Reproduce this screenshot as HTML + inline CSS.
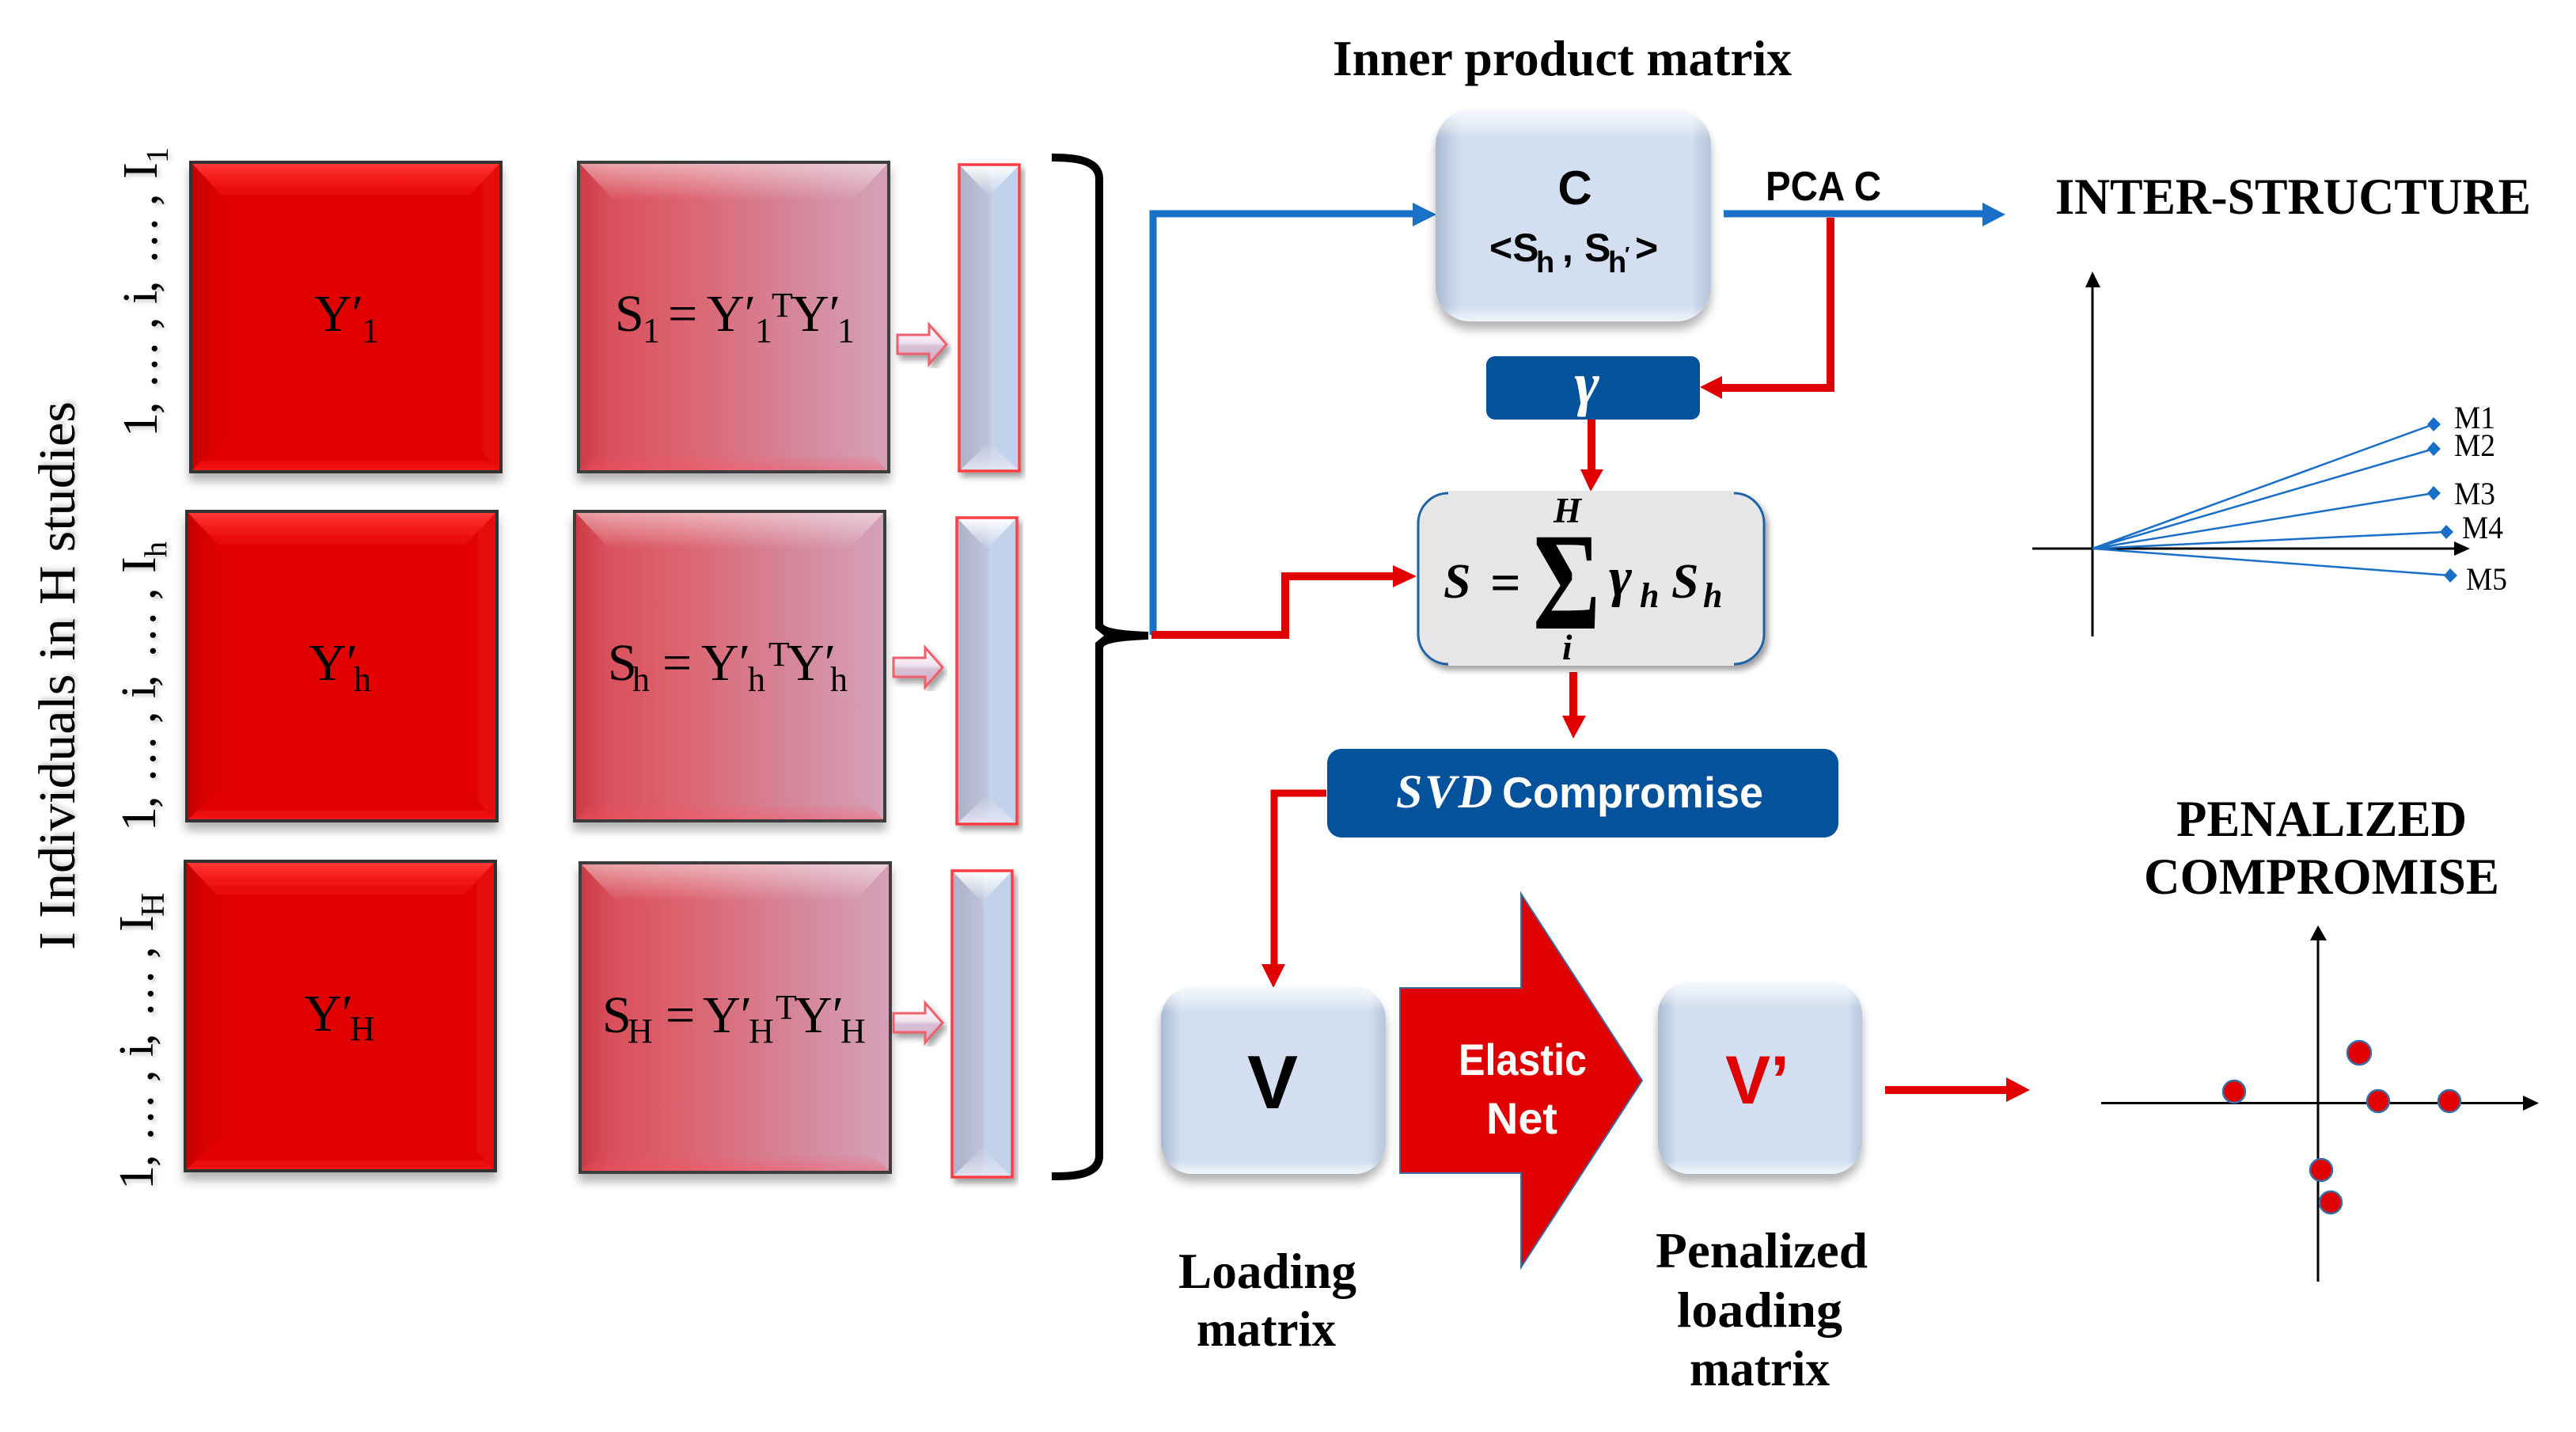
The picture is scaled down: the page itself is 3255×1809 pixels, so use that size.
<!DOCTYPE html>
<html>
<head>
<meta charset="utf-8">
<style>
html,body{margin:0;padding:0;background:#fff;}
svg{display:block;}
text{font-family:"Liberation Serif",serif;fill:#000;}
.s{font-family:"Liberation Sans",sans-serif;font-weight:bold;}
.b{font-weight:bold;}
.m{font-size:66px;}
.u{font-size:44px;}
.bi{font-weight:bold;font-style:italic;}
</style>
</head>
<body>
<svg width="3255" height="1809" viewBox="0 0 3255 1809" xmlns="http://www.w3.org/2000/svg">
<defs>
<filter id="sh" x="-10%" y="-10%" width="120%" height="120%"><feDropShadow dx="0" dy="10" stdDeviation="6" flood-color="#000" flood-opacity=".3"/></filter>
<filter id="sh2" x="-10%" y="-10%" width="120%" height="120%"><feDropShadow dx="4" dy="6" stdDeviation="4" flood-color="#000" flood-opacity=".38"/></filter>
<filter id="ts" x="-10%" y="-10%" width="120%" height="120%"><feDropShadow dx="3" dy="3" stdDeviation="3" flood-color="#000" flood-opacity=".2"/></filter>
<linearGradient id="rt" x1="0" y1="0" x2="0" y2="1"><stop offset="0" stop-color="#ff3a3a"/><stop offset=".45" stop-color="#f41a1a"/><stop offset="1" stop-color="#e00000"/></linearGradient>
<linearGradient id="rb" x1="0" y1="0" x2="0" y2="1"><stop offset="0" stop-color="#e00000"/><stop offset=".6" stop-color="#e00000"/><stop offset="1" stop-color="#f81818"/></linearGradient>
<linearGradient id="rl" x1="0" y1="0" x2="1" y2="0"><stop offset="0" stop-color="#c40000"/><stop offset=".6" stop-color="#d80000"/><stop offset="1" stop-color="#e00000"/></linearGradient>
<linearGradient id="rr" x1="0" y1="0" x2="1" y2="0"><stop offset="0" stop-color="#e00000"/><stop offset="1" stop-color="#e80e0e"/></linearGradient>
<linearGradient id="p" x1="0" y1="0" x2="1" y2="0"><stop offset="0" stop-color="#cc3a44"/><stop offset=".1" stop-color="#d9505c"/><stop offset=".35" stop-color="#dc6470"/><stop offset=".7" stop-color="#d5869a"/><stop offset="1" stop-color="#d5a2b8"/></linearGradient>
<linearGradient id="wt" x1="0" y1="0" x2="0" y2="1"><stop offset="0" stop-color="#fff" stop-opacity=".5"/><stop offset="1" stop-color="#fff" stop-opacity="0"/></linearGradient>
<linearGradient id="wb" x1="0" y1="0" x2="0" y2="1"><stop offset="0" stop-color="#fff" stop-opacity="0"/><stop offset=".5" stop-color="#ff5060" stop-opacity="0"/><stop offset="1" stop-color="#ff5060" stop-opacity=".4"/></linearGradient>
<linearGradient id="bar" x1="0" y1="0" x2="1" y2="0"><stop offset="0" stop-color="#aeb0c6"/><stop offset=".5" stop-color="#bcc4da"/><stop offset=".55" stop-color="#c2d2ea"/><stop offset="1" stop-color="#c2d2ea"/></linearGradient>
<linearGradient id="bt" x1="0" y1="0" x2="0" y2="1"><stop offset="0" stop-color="#fff"/><stop offset="1" stop-color="#fff" stop-opacity="0"/></linearGradient>
<linearGradient id="bb" x1="0" y1="1" x2="0" y2="0"><stop offset="0" stop-color="#e4e4f2"/><stop offset="1" stop-color="#e4e4f2" stop-opacity="0"/></linearGradient>
<linearGradient id="sa" x1="0" y1="0" x2="0" y2="1"><stop offset="0" stop-color="#fff"/><stop offset=".45" stop-color="#f2e4ee"/><stop offset=".55" stop-color="#d5c0d8"/><stop offset="1" stop-color="#d4a8c0"/></linearGradient>
<linearGradient id="ct" x1="0" y1="0" x2="0" y2="1"><stop offset="0" stop-color="#f4f8fc"/><stop offset=".13" stop-color="#fff" stop-opacity="0"/><stop offset=".93" stop-color="#fff" stop-opacity="0"/><stop offset="1" stop-color="#fff" stop-opacity=".7"/></linearGradient>
<linearGradient id="cs" x1="0" y1="0" x2="1" y2="0"><stop offset="0" stop-color="#a8bad2"/><stop offset=".09" stop-color="#a8bad2" stop-opacity="0"/><stop offset=".93" stop-color="#a8bad2" stop-opacity="0"/><stop offset="1" stop-color="#b8c8dc"/></linearGradient>

<g id="red">
<rect width="392" height="391" fill="#e00000"/>
<polygon points="0,0 392,0 347,48 45,48" fill="url(#rt)"/>
<polygon points="0,391 392,391 347,345 45,345" fill="url(#rb)"/>
<polygon points="0,0 45,48 45,345 0,391" fill="url(#rl)"/>
<polygon points="392,0 347,48 347,345 392,391" fill="url(#rr)"/>
<rect width="392" height="391" fill="none" stroke="#333" stroke-width="4"/>
</g>
<g id="pink">
<rect width="392" height="391" fill="url(#p)"/>
<polygon points="0,0 392,0 347,48 45,48" fill="url(#wt)"/>
<polygon points="0,391 392,391 347,345 45,345" fill="url(#wb)"/>
<rect width="392" height="391" fill="none" stroke="#3c3c3c" stroke-width="4"/>
</g>
<g id="bar1">
<rect width="76" height="387" fill="url(#bar)"/>
<polygon points="0,0 76,0 38,40" fill="url(#bt)"/>
<polygon points="0,387 76,387 38,350" fill="url(#bb)"/>
<rect width="76" height="387" fill="none" stroke="#ff3c44" stroke-width="3.5"/>
</g>
<g id="arr">
<polygon points="0,13 40,13 40,0 62,25 40,50 40,37 0,37" fill="url(#sa)" stroke="#f0606c" stroke-width="3"/>
</g>
</defs>

<rect width="3255" height="1809" fill="#fff"/>

<!-- left column blocks -->
<use href="#red" x="241" y="205" filter="url(#sh)"/>
<use href="#red" x="236" y="646" filter="url(#sh)"/>
<use href="#red" x="234" y="1088" filter="url(#sh)"/>
<use href="#pink" x="731" y="205" filter="url(#sh)"/>
<use href="#pink" x="726" y="646" filter="url(#sh)"/>
<use href="#pink" x="733" y="1090" filter="url(#sh)"/>
<use href="#bar1" x="1212" y="208" filter="url(#sh2)"/>
<use href="#bar1" x="1209" y="654" filter="url(#sh2)"/>
<use href="#bar1" x="1203" y="1100" filter="url(#sh2)"/>
<use href="#arr" x="1134" y="410" filter="url(#sh2)"/>
<use href="#arr" x="1129" y="818" filter="url(#sh2)"/>
<use href="#arr" x="1129" y="1267" filter="url(#sh2)"/>

<!-- block labels -->
<text class="m" x="397" y="418">Y′</text><text class="u" x="457" y="432">1</text>
<text class="m" x="390" y="859">Y′</text><text class="u" x="447" y="873">h</text>
<text class="m" x="384" y="1302">Y′</text><text class="u" x="442" y="1314">H</text>

<text class="m" x="777" y="418">S</text><text class="u" x="812" y="432">1</text><text class="m" x="844" y="418">=</text><text class="m" x="893" y="418">Y′</text><text class="u" x="954" y="432">1</text><text class="u" x="975" y="400">T</text><text class="m" x="1000" y="418">Y′</text><text class="u" x="1058" y="432">1</text>

<text class="m" x="768" y="859">S</text><text class="u" x="799" y="873">h</text><text class="m" x="837" y="859">=</text><text class="m" x="886" y="859">Y′</text><text class="u" x="945" y="873">h</text><text class="u" x="971" y="841">T</text><text class="m" x="994" y="859">Y′</text><text class="u" x="1049" y="873">h</text>

<text class="m" x="761" y="1304">S</text><text class="u" x="793" y="1317">H</text><text class="m" x="841" y="1304">=</text><text class="m" x="888" y="1304">Y′</text><text class="u" x="946" y="1317">H</text><text class="u" x="980" y="1287">T</text><text class="m" x="1004" y="1304">Y′</text><text class="u" x="1062" y="1317">H</text>

<!-- rotated labels -->
<text transform="translate(94,1200) rotate(-90)" font-size="66" textLength="693" lengthAdjust="spacingAndGlyphs" filter="url(#ts)">I Individuals  in H studies</text>

<g filter="url(#ts)">
<text transform="translate(198,549) rotate(-90)" font-size="62" x="-3 26 60 81 101 133 165 179 217 237 258 289 323">1,...,i,...,I</text>
<text transform="translate(212,206) rotate(-90)" font-size="40">1</text>
<text transform="translate(196,1047) rotate(-90)" font-size="62" x="-3 26 60 81 101 133 165 179 217 237 258 289 323">1,...,i,...,I</text>
<text transform="translate(210,704) rotate(-90)" font-size="40">h</text>
<text transform="translate(193,1500) rotate(-90)" font-size="62" x="-3 26 60 81 101 133 165 179 217 237 258 289 323">1,...,i,...,I</text>
<text transform="translate(207,1158) rotate(-90)" font-size="42">H</text>
</g>

<!-- brace -->
<path d="M1329,199 C1352,199 1389,200 1389,226 L1389,790 M1389,816 L1389,1460 C1389,1486 1352,1486 1329,1486" fill="none" stroke="#000" stroke-width="10"/>
<path d="M1384,788 L1394,788 C1396,794 1420,797 1451,798 L1451,808 C1420,809 1396,812 1394,818 L1384,818 L1384,812 L1395,803 L1384,794 Z" fill="#000"/>

<!-- connectors blue -->
<path d="M1457,802 L1457,270 L1790,270" fill="none" stroke="#1a72c8" stroke-width="9"/>
<polygon points="1785,256 1815,271 1785,286" fill="#1a72c8"/>
<path d="M2178,270 L2510,270" fill="none" stroke="#1a6fc6" stroke-width="9"/>
<polygon points="2505,256 2534,271 2505,286" fill="#1a6fc6"/>

<!-- connectors red -->
<path d="M2313,275 L2313,490 L2170,490" fill="none" stroke="#e00000" stroke-width="10"/>
<polygon points="2176,475 2148,489 2176,504" fill="#e00000"/>
<path d="M2011,530 L2011,600" fill="none" stroke="#e00000" stroke-width="10"/>
<polygon points="1997,593 2026,593 2010,621" fill="#e00000"/>
<path d="M1455,802 L1624,802 L1624,728 L1765,728" fill="none" stroke="#e00000" stroke-width="10"/>
<polygon points="1760,714 1790,728 1760,742" fill="#e00000"/>
<path d="M1988,849 L1988,910" fill="none" stroke="#e00000" stroke-width="10"/>
<polygon points="1974,904 2004,904 1988,933" fill="#e00000"/>
<path d="M1676,1002 L1610,1002 L1610,1225" fill="none" stroke="#e00000" stroke-width="9"/>
<polygon points="1594,1218 1624,1218 1609,1248" fill="#e00000"/>
<path d="M2382,1377 L2540,1377" fill="none" stroke="#e00000" stroke-width="10"/>
<polygon points="2535,1361 2565,1377 2535,1392" fill="#e00000"/>

<!-- C box -->
<g filter="url(#sh)">
<rect x="1814" y="139" width="348" height="267" rx="44" fill="#d3dff0"/>
<rect x="1814" y="139" width="348" height="267" rx="44" fill="url(#cs)"/>
<rect x="1814" y="139" width="348" height="267" rx="44" fill="url(#ct)"/>
</g>
<text class="s" x="1990" y="258" font-size="60" text-anchor="middle">C</text>
<text class="s" x="1882" y="330" font-size="50">&lt;S</text>
<text class="s" x="1941" y="344" font-size="38">h</text>
<text class="s" x="1974" y="330" font-size="50">,</text>
<text class="s" x="2002" y="330" font-size="50">S</text>
<text class="s" x="2032" y="344" font-size="38">h</text>
<text class="s" x="2053" y="330" font-size="26">′</text>
<text class="s" x="2066" y="330" font-size="50">&gt;</text>

<text class="s" x="2231" y="253" font-size="52" textLength="146" lengthAdjust="spacingAndGlyphs">PCA C</text>

<!-- gamma box -->
<rect x="1878" y="450" width="270" height="80" rx="11" fill="#04519c"/>
<text class="bi" x="2005" y="510" font-size="76" text-anchor="middle" style="fill:#fff">γ</text>

<!-- S box -->
<rect x="1792" y="623" width="437" height="216" rx="38" fill="#e6e6e6" stroke="#1f62a8" stroke-width="3" filter="url(#sh2)"/>
<rect x="1830" y="620" width="361" height="6" fill="#e6e6e6"/>
<rect x="1830" y="836" width="361" height="5" fill="#e6e6e6"/>
<text class="bi" x="1824" y="755" font-size="62">S</text>
<text class="b" x="1883" y="759" font-size="68">=</text>
<text class="b" transform="translate(1937,794) scale(.74,1)" font-size="176">Σ</text>
<text class="bi" x="1963" y="660" font-size="45">H</text>
<text class="bi" x="1974" y="833" font-size="45">i</text>
<text class="bi" x="2033" y="752" font-size="70">γ</text>
<text class="bi" x="2072" y="767" font-size="44">h</text>
<text class="bi" x="2112" y="755" font-size="62">S</text>
<text class="bi" x="2152" y="767" font-size="44">h</text>

<!-- SVD box -->
<rect x="1677" y="946" width="646" height="112" rx="18" fill="#04519c"/>
<text class="bi" x="1764" y="1020" font-size="60" style="fill:#fff" textLength="122" lengthAdjust="spacing">SVD</text>
<text class="s" x="1898" y="1020" font-size="55" style="fill:#fff" textLength="330" lengthAdjust="spacingAndGlyphs">Compromise</text>

<!-- V box -->
<g filter="url(#sh)">
<rect x="1467" y="1247" width="284" height="236" rx="40" fill="#d3dff0"/>
<rect x="1467" y="1247" width="284" height="236" rx="40" fill="url(#cs)"/>
<rect x="1467" y="1247" width="284" height="236" rx="40" fill="url(#ct)"/>
</g>
<text class="s" x="1608" y="1400" font-size="96" text-anchor="middle">V</text>

<!-- Elastic arrow -->
<polygon points="1769,1248 1922,1248 1922,1129 2075,1365 1922,1601 1922,1482 1769,1482" fill="#e00000" stroke="#3a6ea5" stroke-width="2"/>
<text class="s" x="1843" y="1358" font-size="56" style="fill:#fff" textLength="162" lengthAdjust="spacingAndGlyphs">Elastic</text>
<text class="s" x="1878" y="1432" font-size="56" style="fill:#fff" textLength="90" lengthAdjust="spacingAndGlyphs">Net</text>

<!-- V' box -->
<g filter="url(#sh)">
<rect x="2095" y="1241" width="258" height="242" rx="40" fill="#d3dff0"/>
<rect x="2095" y="1241" width="258" height="242" rx="40" fill="url(#cs)"/>
<rect x="2095" y="1241" width="258" height="242" rx="40" fill="url(#ct)"/>
</g>
<text class="s" x="2180" y="1394" font-size="86" style="fill:#e00000" textLength="81" lengthAdjust="spacingAndGlyphs">V’</text>

<!-- titles -->
<text class="b" x="1684" y="95" font-size="64" textLength="580" lengthAdjust="spacingAndGlyphs">Inner product matrix</text>
<text class="b" x="2597" y="270" font-size="65" textLength="601" lengthAdjust="spacingAndGlyphs">INTER-STRUCTURE</text>
<text class="b" x="2750" y="1056" font-size="65" textLength="367" lengthAdjust="spacingAndGlyphs">PENALIZED</text>
<text class="b" x="2709" y="1129" font-size="65" textLength="449" lengthAdjust="spacingAndGlyphs">COMPROMISE</text>
<text class="b" x="1489" y="1627" font-size="64" textLength="225" lengthAdjust="spacingAndGlyphs">Loading</text>
<text class="b" x="1512" y="1700" font-size="64" textLength="176" lengthAdjust="spacingAndGlyphs">matrix</text>
<text class="b" x="2092" y="1601" font-size="64" textLength="268" lengthAdjust="spacingAndGlyphs">Penalized</text>
<text class="b" x="2119" y="1676" font-size="64" textLength="209" lengthAdjust="spacingAndGlyphs">loading</text>
<text class="b" x="2135" y="1750" font-size="64" textLength="177" lengthAdjust="spacingAndGlyphs">matrix</text>

<!-- inter-structure chart -->
<path d="M2644,355 L2644,804 M2568,693 L3105,693" stroke="#000" stroke-width="3" fill="none"/>
<polygon points="2644,343 2654,363 2635,363" fill="#000"/>
<polygon points="3121,693 3101,684 3101,702" fill="#000"/>
<g stroke="#1a6fc6" stroke-width="2.5" fill="none">
<path d="M2644,693 L3075,536 M2644,693 L3075,567 M2644,693 L3075,623 M2644,693 L3091,672 M2644,693 L3096,727"/>
</g>
<g fill="#1a6fc6">
<polygon points="3075,527 3084,536 3075,545 3067,536"/>
<polygon points="3075,558 3084,567 3075,576 3067,567"/>
<polygon points="3075,614 3084,623 3075,632 3067,623"/>
<polygon points="3091,663 3100,672 3091,681 3083,672"/>
<polygon points="3096,718 3105,727 3096,736 3088,727"/>
</g>
<g font-size="40">
<text x="3101" y="541" textLength="52" lengthAdjust="spacingAndGlyphs">M1</text>
<text x="3101" y="576" textLength="52" lengthAdjust="spacingAndGlyphs">M2</text>
<text x="3101" y="637" textLength="52" lengthAdjust="spacingAndGlyphs">M3</text>
<text x="3111" y="680" textLength="52" lengthAdjust="spacingAndGlyphs">M4</text>
<text x="3116" y="745" textLength="52" lengthAdjust="spacingAndGlyphs">M5</text>
</g>

<!-- compromise chart -->
<path d="M2929,1180 L2929,1619 M2655,1393.5 L3192,1393.5" stroke="#000" stroke-width="3" fill="none"/>
<polygon points="2929,1169 2940,1188 2919,1188" fill="#000"/>
<polygon points="3208,1393.5 3188,1384 3188,1403" fill="#000"/>
<g fill="#e00000" stroke="#3a6ea5" stroke-width="2.5">
<circle cx="2981" cy="1330" r="15"/>
<circle cx="2823" cy="1379" r="14"/>
<circle cx="3005" cy="1391" r="14"/>
<circle cx="3095" cy="1391" r="14"/>
<circle cx="2933" cy="1478" r="14"/>
<circle cx="2945" cy="1519" r="14"/>
</g>
</svg>
</body>
</html>
